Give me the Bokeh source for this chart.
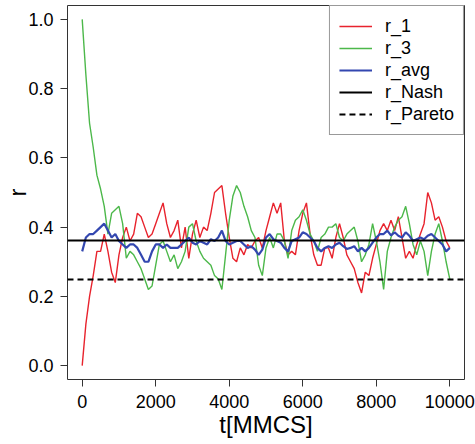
from bokeh.plotting import figure
from bokeh.models import Legend, LegendItem, ColumnDataSource, FixedTicker, Range1d
from bokeh.embed import file_html
from bokeh.resources import INLINE

# sampling times (MMCS)
t = list(range(0, 10001, 100))

r_1 = [0.00, 0.12, 0.20, 0.26, 0.33, 0.33, 0.38, 0.33, 0.27, 0.24,
       0.32, 0.37, 0.40, 0.36, 0.38, 0.44, 0.43, 0.40, 0.37, 0.38,
       0.41, 0.44, 0.47, 0.41, 0.37, 0.39, 0.42, 0.34, 0.40, 0.31,
       0.38, 0.42, 0.37, 0.40, 0.39, 0.44, 0.50, 0.51, 0.52, 0.44,
       0.37, 0.31, 0.30, 0.34, 0.32, 0.35, 0.34, 0.36, 0.37, 0.34,
       0.39, 0.43, 0.47, 0.44, 0.47, 0.36, 0.32, 0.33, 0.32, 0.39,
       0.44, 0.47, 0.38, 0.32, 0.29, 0.29, 0.34, 0.34, 0.31, 0.37,
       0.41, 0.37, 0.32, 0.30, 0.28, 0.24, 0.21, 0.27, 0.26, 0.31,
       0.35, 0.39, 0.41, 0.39, 0.42, 0.39, 0.43, 0.37, 0.31, 0.33,
       0.31, 0.35, 0.38, 0.41, 0.50, 0.47, 0.42, 0.43, 0.40, 0.36,
       0.34]

r_3 = [1.00, 0.84, 0.70, 0.63, 0.55, 0.51, 0.46, 0.38, 0.44, 0.45,
       0.46, 0.41, 0.31, 0.33, 0.32, 0.30, 0.28, 0.25, 0.22, 0.23,
       0.29, 0.35, 0.36, 0.33, 0.30, 0.32, 0.28, 0.30, 0.33, 0.40,
       0.41, 0.36, 0.33, 0.31, 0.30, 0.29, 0.26, 0.25, 0.22, 0.32,
       0.42, 0.49, 0.52, 0.50, 0.46, 0.43, 0.39, 0.37, 0.29, 0.26,
       0.34, 0.37, 0.34, 0.38, 0.38, 0.36, 0.31, 0.39, 0.42, 0.43,
       0.45, 0.42, 0.38, 0.36, 0.33, 0.37, 0.38, 0.40, 0.40, 0.41,
       0.37, 0.36, 0.38, 0.39, 0.40, 0.36, 0.30, 0.32, 0.35, 0.41,
       0.36, 0.30, 0.22, 0.33, 0.37, 0.40, 0.42, 0.43, 0.46, 0.41,
       0.35, 0.32, 0.36, 0.33, 0.26, 0.33, 0.38, 0.41, 0.36, 0.30,
       0.25]

r_avg = [0.33, 0.37, 0.38, 0.38, 0.39, 0.40, 0.41, 0.39, 0.37, 0.38,
         0.36, 0.35, 0.34, 0.35, 0.35, 0.34, 0.32, 0.30, 0.30, 0.33,
         0.35, 0.35, 0.34, 0.35, 0.34, 0.34, 0.34, 0.35, 0.36, 0.37,
         0.355, 0.35, 0.36, 0.355, 0.35, 0.365, 0.36, 0.37, 0.39, 0.36,
         0.35, 0.355, 0.36, 0.36, 0.35, 0.34, 0.345, 0.335, 0.32, 0.335,
         0.37, 0.38, 0.365, 0.36, 0.355, 0.34, 0.33, 0.36, 0.365, 0.37,
         0.385, 0.38, 0.37, 0.36, 0.34, 0.33, 0.34, 0.345, 0.34, 0.35,
         0.355, 0.345, 0.337, 0.34, 0.345, 0.33, 0.34, 0.33, 0.34, 0.355,
         0.37, 0.38, 0.38, 0.39, 0.376, 0.385, 0.375, 0.37, 0.385, 0.375,
         0.36, 0.365, 0.37, 0.365, 0.375, 0.38, 0.37, 0.36, 0.35, 0.33,
         0.34]

r_Nash = [0.36]
r_Pareto = [0.25]

x_ticks = [0, 2000, 4000, 6000, 8000, 10000]
y_ticks = [0.0, 0.2, 0.4, 0.6, 0.8, 1.0]
y_tick_labels = {0.0: "0.0", 0.2: "0.2", 0.4: "0.4", 0.6: "0.6", 0.8: "0.8", 1.0: "1.0"}

FONT = "Liberation Sans"
AX = "#333333"

p = figure(width=475, height=444, output_backend="svg", toolbar_location=None,
           x_range=Range1d(-400, 10400), y_range=Range1d(-0.04, 1.04),
           min_border_left=67, min_border_right=11, min_border_top=5, min_border_bottom=65)
p.background_fill_color = "white"
p.border_fill_color = "white"
p.outline_line_color = AX
p.outline_line_width = 1
p.xgrid.visible = False
p.ygrid.visible = False

src = ColumnDataSource(dict(t=t, r_1=r_1, r_3=r_3, r_avg=r_avg))
l1 = p.line("t", "r_1", source=src, line_color="#e8232d", line_width=1.4)
l3 = p.line("t", "r_3", source=src, line_color="#4cb84a", line_width=1.4)
la = p.line("t", "r_avg", source=src, line_color="#3347b0", line_width=2.2)

ln = p.hspan(y=r_Nash, line_color="black", line_width=1.8)
lp = p.hspan(y=r_Pareto, line_color="black", line_width=1.8, line_dash="6 4")

legend = Legend(items=[LegendItem(label="r_1", renderers=[l1]),
                       LegendItem(label="r_3", renderers=[l3]),
                       LegendItem(label="r_avg", renderers=[la]),
                       LegendItem(label="r_Nash", renderers=[ln]),
                       LegendItem(label="r_Pareto", renderers=[lp])],
                location="top_right", margin=0, padding=9, spacing=0,
                glyph_width=33, glyph_height=22, label_height=22, label_standoff=13,
                label_text_font=FONT, label_text_font_size="18px", label_text_color="black",
                border_line_color=AX, border_line_width=1,
                background_fill_color="white", background_fill_alpha=1)
p.add_layout(legend)

for ax in (p.xaxis, p.yaxis):
    ax.axis_line_color = None
    ax.major_tick_line_color = AX
    ax.major_tick_out = 7
    ax.major_tick_in = 0
    ax.minor_tick_line_color = None
    ax.major_label_text_font = FONT
    ax.major_label_text_font_size = "18px"
    ax.major_label_text_color = "black"
    ax.axis_label_text_font = FONT
    ax.axis_label_text_font_size = "24px"
    ax.axis_label_text_font_style = "normal"
    ax.axis_label_text_color = "black"

p.xaxis.ticker = FixedTicker(ticks=x_ticks)
p.xaxis.major_label_standoff = 8
p.xaxis.axis_label = "t[MMCS]"
p.xaxis.axis_label_standoff = 0
p.yaxis.ticker = FixedTicker(ticks=y_ticks)
p.yaxis.major_label_overrides = y_tick_labels
p.yaxis.major_label_orientation = "horizontal"
p.yaxis.major_label_standoff = 7
p.yaxis.axis_label = "r"
p.yaxis.axis_label_standoff = -6

open("out.html", "w").write(file_html(p, INLINE))
